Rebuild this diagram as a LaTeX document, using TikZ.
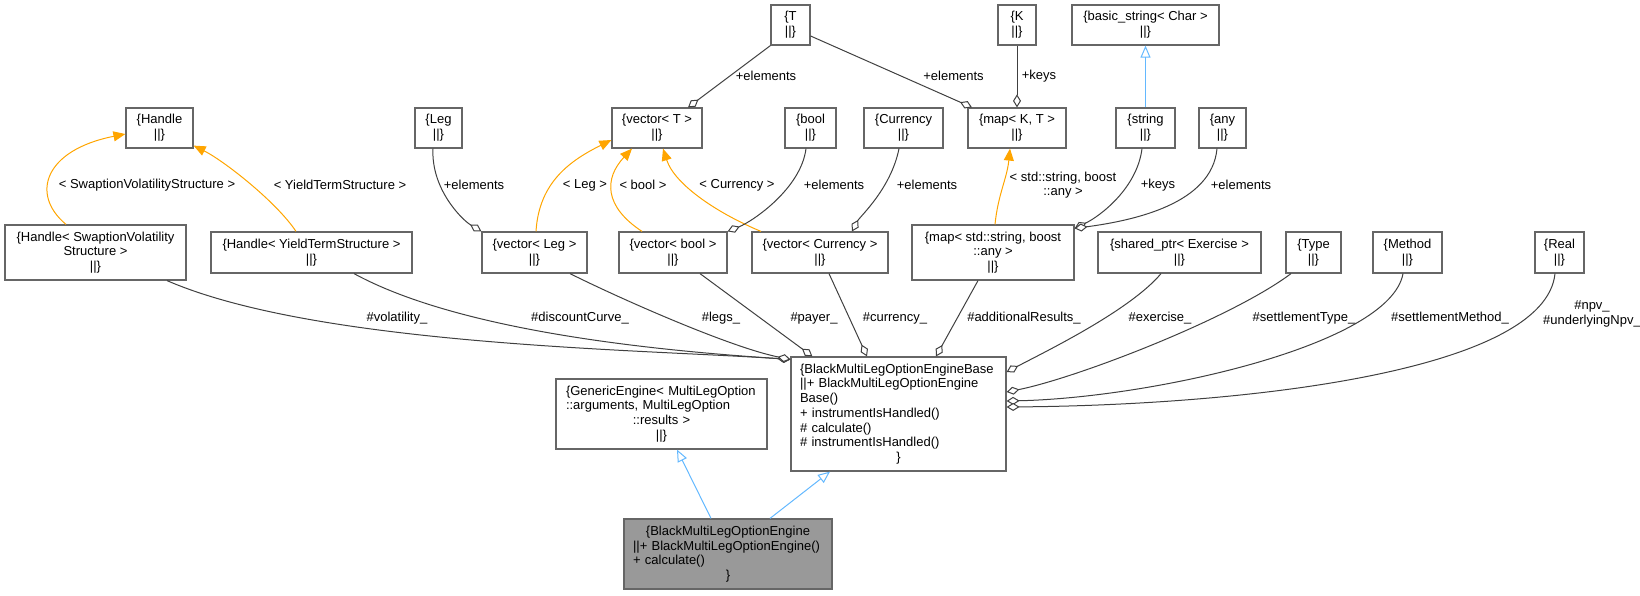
\documentclass[tikz,border=0pt]{standalone}
\usepackage{fontspec}
\setmainfont{Liberation Sans}
\usetikzlibrary{arrows.meta}
\definecolor{boxline}{HTML}{666666}
\definecolor{boxfill}{HTML}{999999}
\definecolor{useline}{HTML}{404040}
\definecolor{inhline}{HTML}{63B8FF}
\definecolor{tmplline}{HTML}{FFA500}
\newcommand{\ctr}[1]{\makebox[\hsize]{#1}}

\tikzset{
  cls/.style={draw=boxline, fill=white, line width=1.2pt, inner sep=0pt, align=center,
    font=\fontsize{13}{14.7}\selectfont},
  lbl/.style={inner sep=0pt, align=center, font=\fontsize{13}{14.7}\selectfont},
  inherit/.style={draw=inhline, line width=1pt, -{Triangle[open, length=12pt, width=10pt]}},
  instof/.style={draw=tmplline, line width=1pt, -{Triangle[length=12pt, width=10pt]}},
  uses/.style={draw=useline, line width=1pt, {Diamond[fill=white, length=13pt, width=8pt]}-},
}

\begin{document}
\begin{tikzpicture}[x=1pt, y=-1pt]
  \useasboundingbox (0,0) rectangle (1640,595);

  % top row
  \node[cls, minimum width=39, minimum height=40] (T) at (790.5,25) {\{T\\||\}};
  \node[cls, minimum width=38, minimum height=40] (K) at (1017,25) {\{K\\||\}};
  \node[cls, minimum width=147, minimum height=40] (basicstr) at (1145.5,25) {\{basic\_string< Char >\\||\}};

  % second row
  \node[cls, minimum width=67, minimum height=40] (handle) at (159.5,128) {\{Handle\\||\}};
  \node[cls, minimum width=47, minimum height=40] (leg) at (438.5,128) {\{Leg\\||\}};
  \node[cls, minimum width=90, minimum height=40] (vecT) at (657,128) {\{vector< T >\\||\}};
  \node[cls, minimum width=51, minimum height=40] (boolc) at (810.5,128) {\{bool\\||\}};
  \node[cls, minimum width=79, minimum height=40] (currency) at (903.5,128) {\{Currency\\||\}};
  \node[cls, minimum width=98, minimum height=40] (mapKT) at (1017,128) {\{map< K, T >\\||\}};
  \node[cls, minimum width=59, minimum height=40] (stringc) at (1145.5,128) {\{string\\||\}};
  \node[cls, minimum width=47, minimum height=40] (anyc) at (1222.5,128) {\{any\\||\}};

  % third row
  \node[cls, minimum width=181, minimum height=55] (hswap) at (95.5,252.5) {\{Handle< SwaptionVolatility\\Structure >\\||\}};
  \node[cls, minimum width=201, minimum height=41] (hyts) at (311.5,252.5) {\{Handle< YieldTermStructure >\\||\}};
  \node[cls, minimum width=105, minimum height=41] (vecleg) at (534.5,252.5) {\{vector< Leg >\\||\}};
  \node[cls, minimum width=108, minimum height=41] (vecbool) at (673,252.5) {\{vector< bool >\\||\}};
  \node[cls, minimum width=136, minimum height=41] (veccur) at (820,252.5) {\{vector< Currency >\\||\}};
  \node[cls, minimum width=162, minimum height=55] (mapsa) at (993,252.5) {\{map< std::string, boost\\::any >\\||\}};
  \node[cls, minimum width=163, minimum height=41] (shared) at (1179.5,252.5) {\{shared\_ptr< Exercise >\\||\}};
  \node[cls, minimum width=55, minimum height=41] (typec) at (1313.5,252.5) {\{Type\\||\}};
  \node[cls, minimum width=69, minimum height=41] (method) at (1407.5,252.5) {\{Method\\||\}};
  \node[cls, minimum width=49, minimum height=41] (real) at (1559.5,252.5) {\{Real\\||\}};

  % engines
  \node[cls, minimum width=211, minimum height=70, text width=191, align=left] (generic) at (661.5,414)
    {\{GenericEngine< MultiLegOption\\::arguments, MultiLegOption\\\ctr{::results >}\\\ctr{||\}}};
  \node[cls, minimum width=215, minimum height=114, text width=197, align=left] (base) at (898.5,414)
    {\{BlackMultiLegOptionEngineBase\\||+ BlackMultiLegOptionEngine\\Base()\\+ instrumentIsHandled()\\\# calculate()\\\# instrumentIsHandled()\\\ctr{\}}};
  \node[cls, fill=boxfill, minimum width=208, minimum height=70, text width=190, align=left] (engine) at (728,554)
    {\ctr{\{BlackMultiLegOptionEngine}\\||+ BlackMultiLegOptionEngine()\\+ calculate()\\\ctr{\}}};

  % inheritance
  \draw[inherit] (stringc.north) -- (basicstr.south);
  \draw[inherit] ([xshift=-17]engine.north) -- ([xshift=15.5]generic.south);
  \draw[inherit] ([xshift=42]engine.north) -- ([xshift=-68.5]base.south);

  % template instances
  \draw[instof] ([xshift=-29.5]hswap.north) .. controls +(-36,-30) and +(-81,16) .. ([yshift=-6]handle.west)
    node[lbl] (l-swap) at (147,185) {< SwaptionVolatilityStructure >};
  \draw[instof] ([xshift=-15.5]hyts.north) .. controls +(-20,-30) and +(30,15) .. ([yshift=3]handle.south east)
    node[lbl] (l-yts) at (340,185) {< YieldTermStructure >};
  \draw[instof] ([xshift=1.5]vecleg.north) .. controls +(3,-50) and +(-40,20) .. ([yshift=-12]vecT.west)
    node[lbl] (l-leg) at (585,185) {< Leg >};
  \draw[instof] ([xshift=-31]vecbool.north) .. controls +(-38,-25) and +(-28,30) .. ([xshift=-25]vecT.south)
    node[lbl] (l-bool) at (643,185) {< bool >};
  \draw[instof] ([xshift=-59]veccur.north) .. controls +(-41,-17) and +(12,37) .. ([xshift=6]vecT.south)
    node[lbl] (l-cur) at (737,185) {< Currency >};
  \draw[instof] ([xshift=2]mapsa.north) .. controls +(3,-30) and +(-3,30) .. ([xshift=-7]mapKT.south)
    node[lbl] (l-map) at (1063,185) {< std::string, boost\\::any >};

  % members of the containers
  \draw[uses] ([xshift=31]vecT.north) -- (T.south west) node[lbl] (e-vecT) at (766,76) {+elements};
  \draw[uses] ([xshift=-45]mapKT.north) -- ([yshift=-11]T.east) node[lbl] (e-mapKT) at (953.5,76) {+elements};
  \draw[uses] (mapKT.north) -- (K.south) node[lbl] (k-mapKT) at (1039,76) {+keys};
  \draw[uses] (vecleg.north west) .. controls +(-20,-12) and +(-2,40) .. ([xshift=-5.5]leg.south)
    node[lbl] (e-leg) at (474,185) {+elements};
  \draw[uses] (vecbool.north east) .. controls +(25,-10) and +(-5,40) .. ([xshift=-4.5]boolc.south)
    node[lbl] (e-bool) at (834,185) {+elements};
  \draw[uses] ([xshift=32]veccur.north) .. controls +(8,-15) and +(-8,40) .. ([xshift=-4.5]currency.south)
    node[lbl] (e-cur) at (927,185) {+elements};
  \draw[uses] ([yshift=-4]mapsa.north east) .. controls +(25,-12) and +(-5,40) .. ([xshift=-3.5]stringc.south)
    node[lbl] (k-mapsa) at (1158,185) {+keys};
  \draw[uses] ([yshift=-4]mapsa.north east) .. controls +(60,-8) and +(-5,55) .. ([xshift=-5.5]anyc.south)
    node[lbl] (e-mapsa) at (1241,185) {+elements};

  % members of the base engine
  \draw[uses] ([yshift=-3]base.north west) .. controls +(-150,-10) and +(150,65) .. ([xshift=71.5]hswap.south)
    node[lbl] (m-vol) at (397,318) {\#volatility\_};
  \draw[uses] ([yshift=-3]base.north west) .. controls +(-120,-8) and +(110,60) .. ([xshift=42.5]hyts.south)
    node[lbl] (m-disc) at (580,318) {\#discountCurve\_};
  \draw[uses] ([yshift=-3]base.north west) .. controls +(-60,-12) and +(50,25) .. ([xshift=35.5]vecleg.south)
    node[lbl] (m-legs) at (721,318) {\#legs\_};
  \draw[uses] ([xshift=22]base.north west) -- ([xshift=27]vecbool.south)
    node[lbl] (m-payer) at (814,318) {\#payer\_};
  \draw[uses] ([xshift=-31.5]base.north) -- ([xshift=9]veccur.south)
    node[lbl] (m-cur) at (895,318) {\#currency\_};
  \draw[uses] ([xshift=37.5]base.north) -- ([xshift=-15]mapsa.south)
    node[lbl] (m-add) at (1024,318) {\#additionalResults\_};
  \draw[uses] ([yshift=42]base.east) .. controls +(38,-20) and +(-31,37) .. ([xshift=-18.5]shared.south)
    node[lbl] (m-ex) at (1160,318) {\#exercise\_};
  \draw[uses] ([yshift=22]base.east) .. controls +(70,-14) and +(-60,45) .. ([xshift=-22.5]typec.south)
    node[lbl] (m-type) at (1304,318) {\#settlementType\_};
  \draw[uses] ([yshift=13]base.east) .. controls +(143,-3) and +(-13,72) .. ([xshift=-4.5]method.south)
    node[lbl] (m-meth) at (1450,318) {\#settlementMethod\_};
  \draw[uses] ([yshift=7]base.east) .. controls +(243,-2) and +(-10,97) .. ([xshift=-4.5]real.south)
    node[lbl] (m-npv) at (1592,314) {\#npv\_\\\#underlyingNpv\_};
\end{tikzpicture}
\end{document}
